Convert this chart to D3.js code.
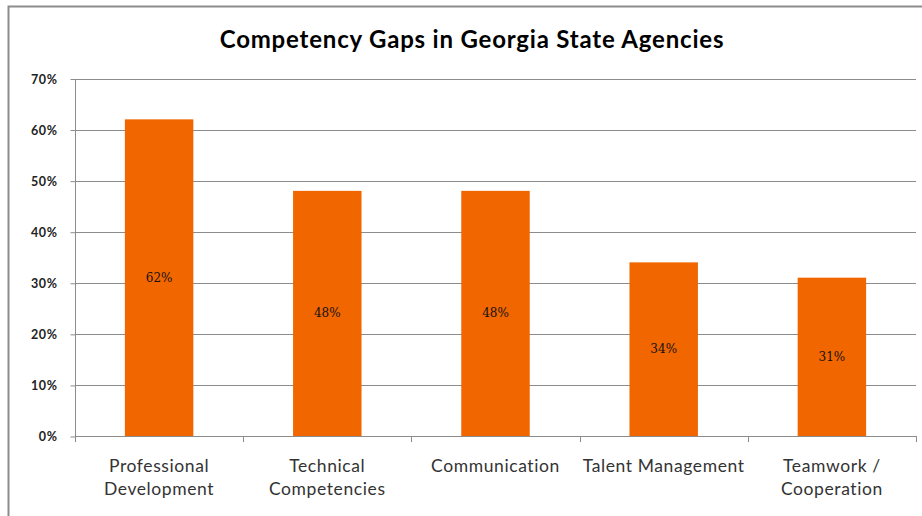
<!DOCTYPE html>
<html>
<head>
<meta charset="utf-8">
<script src="https://cdn.jsdelivr.net/npm/d3@7"></script>
<style>
  html, body { margin: 0; padding: 0; background: #fff; }
  svg { display: block; }
</style>
</head>
<body>
<svg id="chart" width="922" height="516"></svg>
<script>
// Chart data
const categories = [
  ["Professional", "Development"],
  ["Technical", "Competencies"],
  ["Communication"],
  ["Talent Management"],
  ["Teamwork /", "Cooperation"]
];
const values = [0.62, 0.48, 0.48, 0.34, 0.31];
const yTicks = [0, 0.1, 0.2, 0.3, 0.4, 0.5, 0.6, 0.7];
const title = "Competency Gaps in Georgia State Agencies";

const svg = d3.select("#chart");
const W = 922, H = 516;
const plot = { left: 75, right: 916, top: 78.5, bottom: 436 };

// Outer frame (left and top edges visible)
svg.append("path")
  .attr("d", `M8.5,${H} V6.5 H${W}`)
  .attr("fill", "none")
  .attr("stroke", "#8c8c8c")
  .attr("stroke-width", 2);

svg.append("text")
  .attr("x", 472).attr("y", 48)
  .attr("text-anchor", "middle")
  .attr("font-family", "Lato, 'Open Sans', sans-serif")
  .attr("font-weight", "bold")
  .attr("font-size", 24)
  .attr("letter-spacing", 0.8)
  .attr("fill", "#000")
  .text(title);

const ids = categories.map((c, i) => i);
const x = d3.scaleBand().domain(ids).range([plot.left, plot.right]).paddingInner(0.593).paddingOuter(0.2965);
const xOuter = d3.scaleBand().domain(ids).range([plot.left, plot.right]);
const y = d3.scaleLinear().domain([0, 0.7]).range([plot.bottom, plot.top]);

// Gridlines
svg.append("g").selectAll("line").data(yTicks.slice(1)).join("line")
  .attr("x1", plot.left).attr("x2", plot.right)
  .attr("y1", d => Math.round(y(d)) + 0.5).attr("y2", d => Math.round(y(d)) + 0.5)
  .attr("stroke", "#8c8c8c").attr("stroke-width", 1);

// Bars
svg.append("g").selectAll("rect").data(values).join("rect")
  .attr("x", (d, i) => x(i))
  .attr("width", x.bandwidth())
  .attr("y", d => y(d))
  .attr("height", d => y(0) - y(d))
  .attr("fill", "#F26600");

// Value labels in the middle of bars
svg.append("g").selectAll("text").data(values).join("text")
  .attr("x", (d, i) => x(i) + x.bandwidth() / 2)
  .attr("y", d => (y(d) + y(0)) / 2 + 4)
  .attr("text-anchor", "middle")
  .attr("font-family", "'DejaVu Serif', 'Liberation Serif', serif")
  .attr("font-size", 12)
  .attr("fill", "#111")
  .text(d => d3.format(".0%")(d));

// Y axis
const yAxis = d3.axisLeft(y).tickValues(yTicks).tickFormat(d3.format(".0%")).tickSize(5).tickPadding(13);
const gy = svg.append("g").attr("transform", `translate(${plot.left + 0.5},0.5)`).call(yAxis);
gy.select(".domain").attr("stroke", "#8c8c8c").attr("d", `M0,${plot.top} V${plot.bottom}`);
gy.selectAll(".tick line").attr("stroke", "#8c8c8c");
gy.selectAll(".tick text")
  .attr("font-family", "Lato, 'Open Sans', sans-serif")
  .attr("font-weight", "bold")
  .attr("font-size", 12.5)
  .attr("letter-spacing", 0.6)
  .attr("fill", "#222");

// X axis baseline and boundary ticks
const boundaries = ids.map(i => xOuter(i)).concat([plot.right]);
svg.append("line")
  .attr("x1", plot.left).attr("x2", plot.right)
  .attr("y1", plot.bottom + 0.5).attr("y2", plot.bottom + 0.5)
  .attr("stroke", "#8c8c8c");
svg.append("g").selectAll("line").data(boundaries).join("line")
  .attr("x1", d => Math.round(d) + 0.5).attr("x2", d => Math.round(d) + 0.5)
  .attr("y1", plot.bottom).attr("y2", plot.bottom + 6)
  .attr("stroke", "#8c8c8c");

// Category labels
const xl = svg.append("g").selectAll("text").data(categories).join("text")
  .attr("x", (d, i) => xOuter(i) + xOuter.bandwidth() / 2)
  .attr("y", 472)
  .attr("text-anchor", "middle")
  .attr("font-family", "Lato, 'Open Sans', sans-serif")
  .attr("font-size", 17.5)
  .attr("letter-spacing", 0.6)
  .attr("fill", "#333");
xl.each(function(d) {
  const t = d3.select(this);
  d.forEach((line, k) => {
    t.append("tspan")
      .attr("x", t.attr("x"))
      .attr("dy", k === 0 ? 0 : 23)
      .text(line);
  });
});
</script>
</body>
</html>
